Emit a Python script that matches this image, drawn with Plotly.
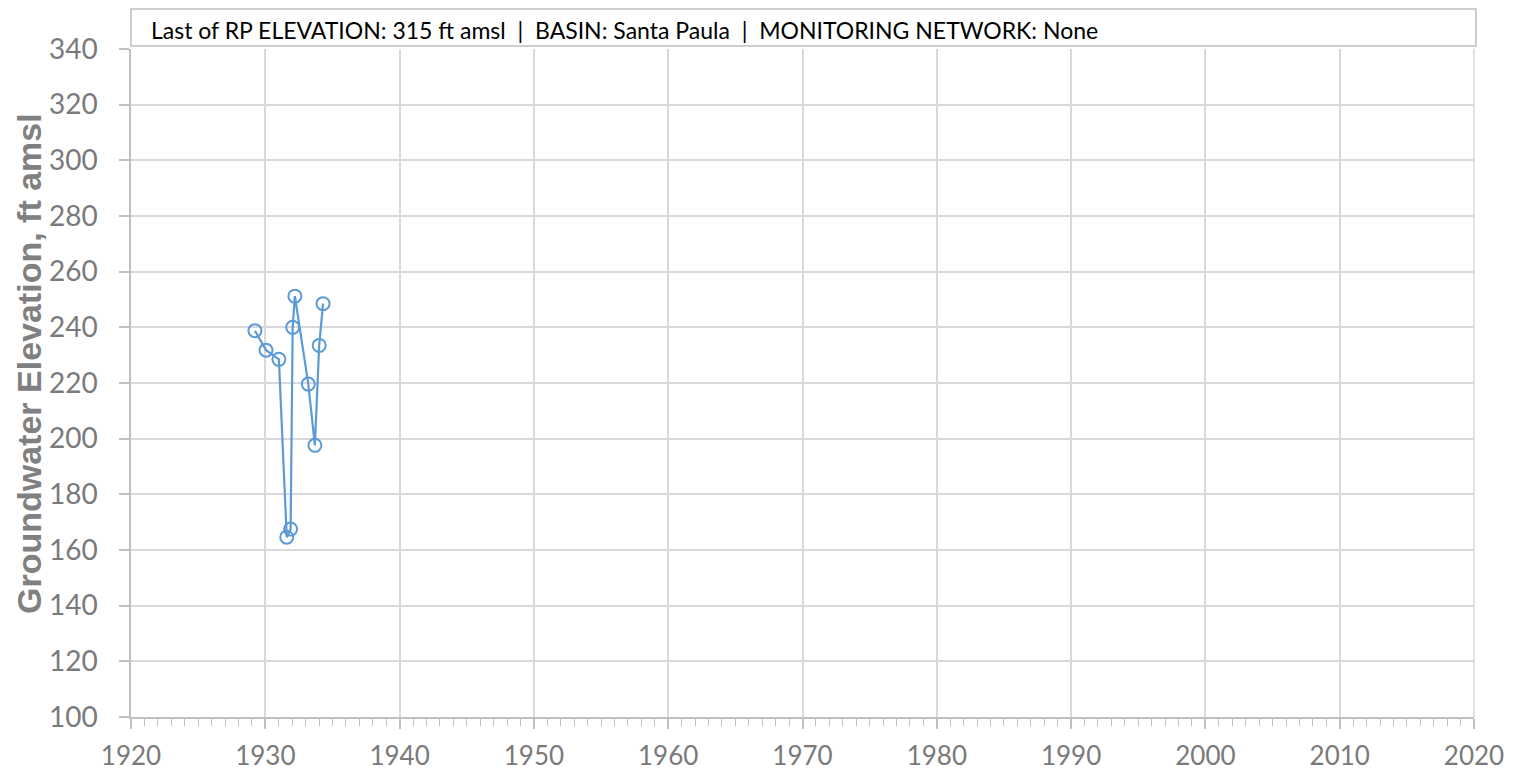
import plotly.graph_objects as go

dates = ["1929-03-25", "1930-01-20", "1931-01-05", "1931-08-07", "1931-11-20",
         "1932-01-15", "1932-03-15", "1933-03-15", "1933-09-10", "1934-01-05", "1934-04-20"]
elev = [238.8, 231.8, 228.5, 164.6, 167.5, 240.0, 251.2, 219.6, 197.6, 233.5, 248.5]

info_text = "Last of RP ELEVATION: 315 ft amsl  |  BASIN: Santa Paula  |  MONITORING NETWORK: None"
y_title = "Groundwater Elevation, ft amsl"
x_range = ["1920-01-01", "2020-01-01"]
y_range = [100, 340]

# page has an 8px body margin; figure coords = page coords - 8
W, H = 1512, 765
ml, mr, mt, mb = 123, 46, 41, 56
plot_w = W - ml - mr
plot_h = H - mt - mb

def px_x(fig_x):
    return (fig_x - ml) / plot_w

def px_y(fig_y):
    return (H - mb - fig_y) / plot_h

fig = go.Figure()
fig.add_trace(go.Scatter(
    x=dates, y=elev, mode="lines+markers",
    line=dict(color="#5B9BD5", width=2.2),
    marker=dict(symbol="circle-open", size=13, color="#5B9BD5", line=dict(width=2, color="#5B9BD5")),
    showlegend=False,
))

xtickfont = dict(family="Lato, Open Sans, sans-serif", size=26, color="#7A7A7A")
ytickfont = dict(family="Lato, Open Sans, sans-serif", size=28, color="#7A7A7A")

fig.update_layout(
    width=W, height=H,
    margin=dict(l=ml, r=mr, t=mt, b=mb, autoexpand=False),
    paper_bgcolor="white", plot_bgcolor="white",
    xaxis=dict(
        type="date", range=x_range, dtick="M120", tickformat="%Y",
        showgrid=True, gridcolor="#D9D9D9", gridwidth=1.5,
        showline=True, linecolor="#BFBFBF", linewidth=1.5,
        ticks="outside", ticklen=10, tickcolor="#BFBFBF", tickwidth=1.5,
        tickfont=xtickfont, zeroline=False, ticklabelstandoff=5,
        minor=dict(dtick="M12", ticks="outside", ticklen=7, tickcolor="#BFBFBF", tickwidth=1, showgrid=False),
    ),
    yaxis=dict(
        range=y_range, dtick=20,
        showgrid=True, gridcolor="#D9D9D9", gridwidth=1.5,
        showline=True, linecolor="#BFBFBF", linewidth=1.5,
        ticks="outside", ticklen=10, tickcolor="#BFBFBF", tickwidth=1.5,
        tickfont=ytickfont, zeroline=False, ticklabelstandoff=16,
    ),
)

# y-axis title
fig.add_annotation(text=y_title, xref="paper", yref="paper",
                   x=px_x(21), y=px_y(356), xanchor="center", yanchor="middle", textangle=-90,
                   showarrow=False,
                   font=dict(family="Liberation Sans, Arial, sans-serif", size=34, color="#808080", weight="bold"))

# right border line of plot area
fig.add_shape(type="line", xref="paper", yref="paper", x0=1, x1=1, y0=0, y1=1,
              line=dict(color="#D9D9D9", width=1.5))
# info box
fig.add_shape(type="rect", xref="paper", yref="paper", x0=0, x1=px_x(1468), y0=px_y(38), y1=px_y(1),
              line=dict(color="#BFBFBF", width=1.5), fillcolor="white")
fig.add_annotation(text=info_text, xref="paper", yref="paper",
                   x=px_x(141), y=px_y(22), xanchor="left", yanchor="middle",
                   showarrow=False, font=dict(family="Lato, Open Sans, sans-serif", size=23, color="#000000"))

fig.write_html("out.html")
